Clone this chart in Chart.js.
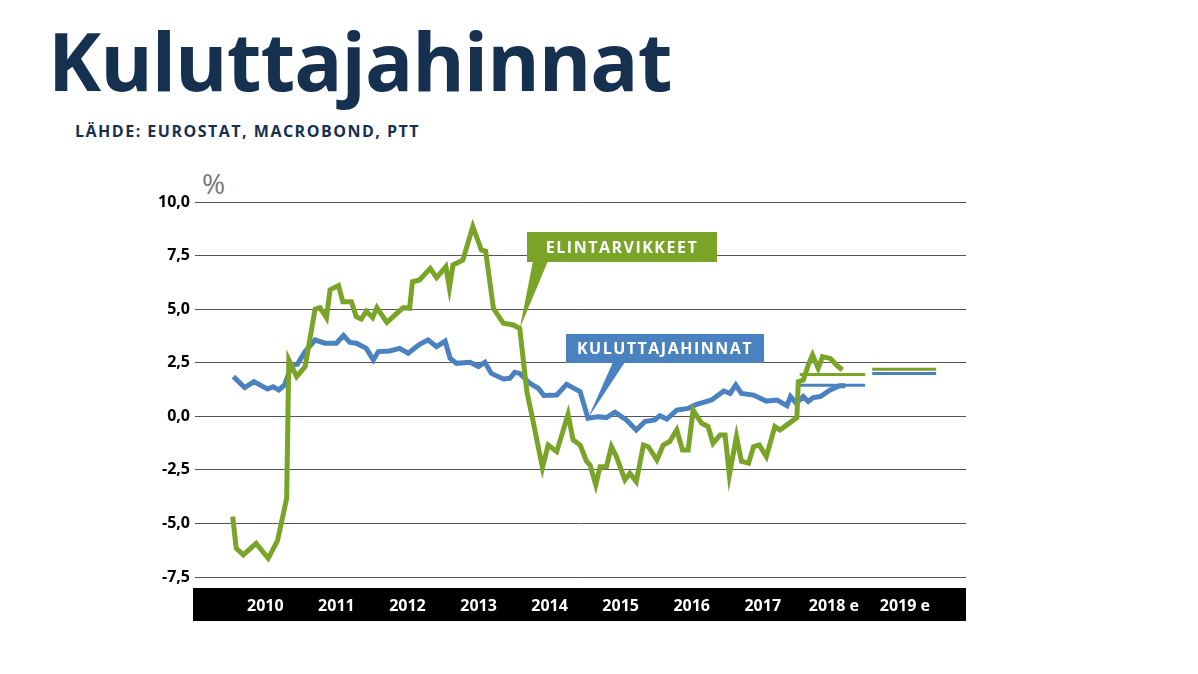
<!DOCTYPE html>
<html>
<head>
<meta charset="utf-8">
<script src="https://cdn.jsdelivr.net/npm/chart.js@4"></script>
<style>
  body { margin:0; background:#fff; width:1198px; height:674px; overflow:hidden; font-family:"Open Sans", sans-serif; }
  #title { position:absolute; left:48px; top:20px; font-size:80px; font-weight:700; color:#16304f; letter-spacing:-1px; line-height:1; }
  #source { position:absolute; left:75px; top:120px; font-size:16px; font-weight:700; color:#16304f; letter-spacing:1.5px; }
  #pct { position:absolute; left:202px; top:164px; font-size:28px; color:#777; }
  #wrap { position:absolute; left:0; top:0; width:1198px; height:674px; }
</style>
</head>
<body>
<div id="title">Kuluttajahinnat</div>
<div id="source">LÄHDE: EUROSTAT, MACROBOND, PTT</div>
<div id="pct">%</div>
<div id="wrap"><canvas id="c"></canvas></div>
<script>
// Year labels (centred on mid-year)
const yearTicks = [2010.5, 2011.5, 2012.5, 2013.5, 2014.5, 2015.5, 2016.5, 2017.5, 2018.5, 2019.5];
const yearLabels = ['2010', '2011', '2012', '2013', '2014', '2015', '2016', '2017', '2018 e', '2019 e'];

// Elintarvikkeet (food), annual change %
const foodX = [2010.04,2010.09,2010.19,2010.37,2010.54,2010.67,2010.80,2010.83,2010.94,2011.06,2011.20,2011.27,2011.36,2011.41,2011.53,2011.59,2011.71,2011.78,2011.85,2011.92,2012.01,2012.07,2012.21,2012.44,2012.53,2012.57,2012.67,2012.82,2012.91,2013.04,2013.09,2013.14,2013.28,2013.42,2013.54,2013.60,2013.71,2013.85,2013.99,2014.08,2014.18,2014.25,2014.40,2014.48,2014.60,2014.76,2014.83,2014.93,2015.02,2015.07,2015.15,2015.21,2015.30,2015.37,2015.44,2015.56,2015.63,2015.72,2015.82,2015.89,2016.01,2016.10,2016.19,2016.29,2016.37,2016.45,2016.52,2016.64,2016.73,2016.80,2016.90,2016.97,2017.03,2017.13,2017.20,2017.30,2017.37,2017.45,2017.55,2017.67,2017.74,2017.84,2017.98,2018.00,2018.07,2018.14,2018.20,2018.28,2018.34,2018.45,2018.54,2018.62];
const foodY = [-4.68,-6.16,-6.47,-5.93,-6.63,-5.82,-3.83,2.63,1.85,2.32,5.0,5.07,4.6,5.9,6.1,5.35,5.35,4.65,4.54,4.9,4.6,5.07,4.38,5.07,5.04,6.28,6.36,6.9,6.47,6.98,6.0,7.06,7.29,8.85,7.76,7.7,5.04,4.34,4.26,4.1,1.15,0.06,-2.4,-1.34,-1.65,0.09,-1.1,-1.34,-2.1,-2.27,-3.2,-2.35,-2.35,-1.42,-1.88,-2.97,-2.66,-3.05,-1.34,-1.42,-2.04,-1.34,-1.18,-0.64,-1.57,-1.57,0.29,-0.33,-0.48,-1.26,-0.87,-0.87,-2.74,-0.95,-2.1,-2.19,-1.42,-1.34,-1.88,-0.48,-0.64,-0.4,-0.06,1.62,1.69,2.39,2.86,2.24,2.78,2.7,2.39,2.16];

// Kuluttajahinnat (consumer prices), annual change %
const cpiX = [2010.05,2010.21,2010.34,2010.53,2010.61,2010.69,2010.77,2010.87,2010.95,2011.06,2011.20,2011.34,2011.50,2011.60,2011.69,2011.78,2011.92,2012.02,2012.09,2012.25,2012.39,2012.51,2012.67,2012.79,2012.91,2013.03,2013.10,2013.19,2013.38,2013.50,2013.59,2013.68,2013.85,2013.94,2014.01,2014.08,2014.22,2014.34,2014.42,2014.60,2014.74,2014.93,2015.04,2015.18,2015.30,2015.42,2015.58,2015.72,2015.84,2015.98,2016.05,2016.15,2016.29,2016.45,2016.57,2016.78,2016.95,2017.04,2017.12,2017.20,2017.37,2017.55,2017.70,2017.84,2017.89,2017.97,2018.07,2018.14,2018.21,2018.31,2018.45,2018.58,2018.66];
const cpiY = [1.85,1.34,1.62,1.27,1.38,1.23,1.46,2.39,2.43,3.02,3.56,3.41,3.41,3.77,3.45,3.41,3.17,2.63,3.02,3.05,3.17,2.94,3.36,3.56,3.25,3.51,2.71,2.47,2.52,2.32,2.52,2.0,1.74,1.77,2.05,2.0,1.54,1.31,0.97,0.99,1.49,1.15,-0.09,-0.02,-0.06,0.19,-0.17,-0.64,-0.25,-0.17,0.03,-0.13,0.29,0.37,0.56,0.76,1.18,1.07,1.46,1.07,0.99,0.71,0.76,0.5,0.92,0.61,0.92,0.69,0.87,0.92,1.23,1.43,1.43];

// Forecasts
const forecastYears = [[2018.02, 2018.94], [2019.04, 2019.94]];
const foodForecast = [1.95, 2.2];
const cpiForecast = [1.45, 2.0];

const GREEN = '#7aa428';
const BLUE = '#4a82c0';

const pts = (xs, ys) => xs.map((x, i) => ({ x: x, y: ys[i] }));
const fcSet = (vals, color, w) => vals.map((v, i) => ({
  data: [{ x: forecastYears[i][0], y: v }, { x: forecastYears[i][1], y: v }],
  borderColor: color, borderWidth: w, pointRadius: 0
}));

const decor = {
  id: 'decor',
  beforeDraw(chart) {
    const ctx = chart.ctx, a = chart.chartArea;
    ctx.save();
    ctx.fillStyle = '#000';
    ctx.fillRect(a.left - 2, a.bottom + 11, a.right - a.left + 2, 33);
    ctx.restore();
  },
  afterDraw(chart) {
    const ctx = chart.ctx, xs = chart.scales.x, ys = chart.scales.y;
    function callout(text, color, bx, by, bw, bh, ax, ay, px1, px2) {
      const tx = xs.getPixelForValue(ax), ty = ys.getPixelForValue(ay);
      ctx.save();
      ctx.fillStyle = color;
      ctx.fillRect(bx, by, bw, bh);
      ctx.beginPath();
      ctx.moveTo(px1, by + bh - 1);
      ctx.lineTo(px2, by + bh - 1);
      ctx.lineTo(tx, ty);
      ctx.closePath();
      ctx.fill();
      ctx.fillStyle = '#fff';
      ctx.font = 'bold 16px "Open Sans"';
      ctx.letterSpacing = '1.5px';
      ctx.textAlign = 'center';
      ctx.textBaseline = 'middle';
      ctx.fillText(text, bx + bw / 2, by + bh / 2 + 1);
      ctx.restore();
    }
    callout('ELINTARVIKKEET', GREEN, 527, 232, 190, 30, 2014.08, 4.1, 533, 548);
    callout('KULUTTAJAHINNAT', BLUE, 566, 334, 198, 29, 2015.04, -0.09, 613, 625);
  }
};

new Chart(document.getElementById('c'), {
  type: 'line',
  data: {
    datasets: [
      { data: pts(foodX, foodY), borderColor: GREEN, borderWidth: 5, pointRadius: 0, tension: 0 },
      { data: pts(cpiX, cpiY), borderColor: BLUE, borderWidth: 5, pointRadius: 0, tension: 0 },
      ...fcSet(foodForecast, GREEN, 3),
      ...fcSet(cpiForecast, BLUE, 3)
    ]
  },
  options: {
    responsive: true,
    maintainAspectRatio: false,
    animation: false,
    layout: { padding: { left: 0, top: 202, right: 232, bottom: 0 } },
    plugins: { legend: { display: false }, tooltip: { enabled: false } },
    scales: {
      x: {
        type: 'linear', min: 2009.51, max: 2020.36,
        afterBuildTicks: (s) => { s.ticks = yearTicks.map(v => ({ value: v })); },
        afterFit: (s) => { s.height = 97; },
        grid: { display: false, drawTicks: false },
        border: { display: false },
        ticks: {
          padding: 20, color: '#fff', font: { family: 'Open Sans', size: 16, weight: 'bold' },
          maxRotation: 0, autoSkip: false,
          callback: (v) => yearLabels[yearTicks.indexOf(v)]
        }
      },
      y: {
        min: -7.5, max: 10,
        afterFit: (s) => { s.width = 195; },
        grid: { color: '#555', lineWidth: 1, drawTicks: false },
        border: { display: false },
        ticks: {
          stepSize: 2.5, padding: 5, color: '#000',
          font: { family: 'Open Sans', size: 16, weight: 'bold' },
          callback: (v) => v.toFixed(1).replace('.', ',')
        }
      }
    }
  },
  plugins: [decor]
});
</script>
</body>
</html>
